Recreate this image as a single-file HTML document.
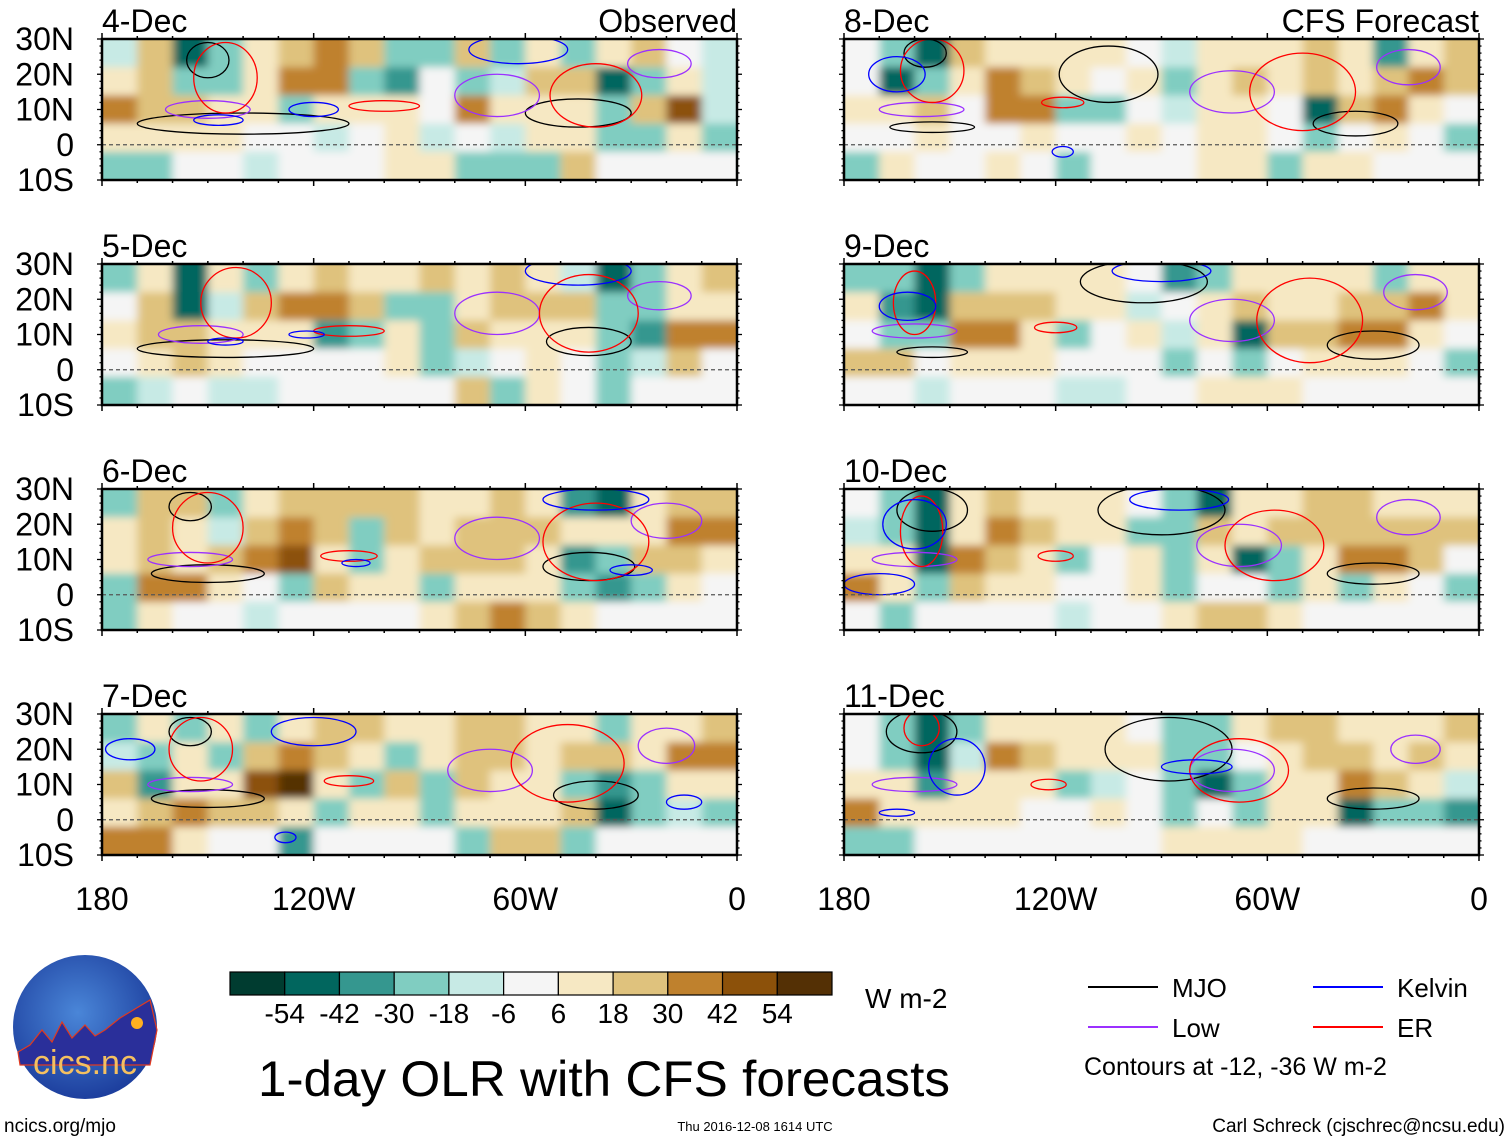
<!DOCTYPE html>
<html><head><meta charset="utf-8">
<style>
html,body{margin:0;padding:0;background:#fff;}
body{width:1510px;height:1142px;overflow:hidden;font-family:"Liberation Sans",sans-serif;}
svg text{font-family:"Liberation Sans",sans-serif;fill:#000;}
</style></head>
<body>
<svg id="fig" width="1510" height="1142" viewBox="0 0 1510 1142" xmlns="http://www.w3.org/2000/svg">
<defs>
<filter id="soft" x="-5%" y="-10%" width="110%" height="120%"><feGaussianBlur stdDeviation="4.5 4"/></filter>
<radialGradient id="logoG" cx="0.45" cy="0.4" r="0.6"><stop offset="0" stop-color="#4a86d8"/><stop offset="1" stop-color="#1d3f9e"/></radialGradient>
</defs>
</svg>
<script>
// ---- data ----
const panelDates = ["4-Dec","5-Dec","6-Dec","7-Dec","8-Dec","9-Dec","10-Dec","11-Dec"];
const lonEdgesW = [180,170,160,150,140,130,120,110,100,90,80,70,60,50,40,30,20,10,0];
const latEdges = [30,22,14,6,-2,-10];
const colorLevels = [-54,-42,-30,-18,-6,6,18,30,42,54];
const colorFills = ["#003c30","#01665e","#35978f","#80cdc1","#c7eae5","#f5f5f5","#f6e8c3","#dfc27d","#bf812d","#8c510a","#543005"];
const yTickLabels = ["30N","20N","10N","0","10S"];
const yTickLats = [30,20,10,0,-10];
const xTickLabels = ["180","120W","60W","0"];
const xTickLons = [180,120,60,0];
const olr4 = [
[-10,20,-50,-20,10,25,30,25,-30,-20,25,-30,10,-20,15,20,0,-10],
[10,25,-30,-20,15,35,30,-20,-40,0,-30,-10,20,20,-50,-30,15,-10],
[40,20,25,15,10,-20,15,15,10,0,30,10,15,15,-30,25,45,-15],
[10,15,15,10,5,0,-10,0,10,-10,5,-10,10,10,-20,-30,15,-20],
[-20,-25,0,0,-15,0,0,0,10,10,-20,-30,-25,25,0,0,0,0]];
const olr5 = [
[-20,15,-50,10,-20,15,25,15,10,20,15,20,10,-10,-50,-20,15,20],
[5,20,-50,-10,20,35,30,25,-20,-20,10,20,25,20,-20,-30,10,15],
[15,20,25,15,10,10,-40,-20,10,-20,20,15,15,10,-30,-40,40,30],
[5,10,20,10,5,5,5,0,10,-20,-10,0,10,5,-20,-10,20,0],
[-30,-10,0,-10,-10,0,0,0,0,0,25,-20,10,5,-25,0,0,0]];
const olr6 = [
[-20,20,25,-30,10,20,25,25,20,10,15,20,10,-40,-50,15,20,20],
[10,25,10,-10,25,35,25,-20,20,15,25,25,20,15,10,15,35,30],
[15,20,15,25,30,50,10,-30,15,20,25,20,15,-40,-20,25,20,10],
[-20,30,30,10,5,-30,25,15,15,-20,10,15,10,-30,-40,-30,10,5],
[-20,10,0,5,-10,0,0,0,0,10,20,30,25,10,0,0,0,0]];
const olr7 = [
[-20,10,-20,10,-20,15,20,25,10,10,20,20,15,10,-30,10,15,20],
[-10,-30,10,-20,25,35,20,15,-20,10,20,25,15,20,20,10,40,40],
[20,-40,15,10,45,55,10,-20,25,-30,20,15,10,-30,-40,-30,10,10],
[15,20,30,25,20,15,-20,15,10,-20,10,15,15,25,-50,-20,-10,-30],
[30,40,10,0,0,-40,0,0,0,0,-20,20,20,-20,5,0,0,0]];
const olr8 = [
[0,-20,-50,20,15,10,15,10,5,-10,10,15,15,20,15,-40,10,20],
[5,-50,-20,10,30,20,15,5,10,-20,10,25,15,20,15,25,30,20],
[10,10,20,5,40,40,-30,-20,5,-10,10,15,0,-50,25,30,10,5],
[0,5,15,5,5,10,0,5,10,5,15,10,5,-30,5,10,5,-20],
[-20,15,0,0,10,0,-20,0,0,0,10,15,-20,10,10,5,5,0]];
const olr9 = [
[-20,-30,-50,-20,10,15,15,10,5,-40,-20,10,15,10,15,-30,10,10],
[10,-40,-50,20,20,20,15,10,-10,0,10,20,15,10,20,20,30,15],
[5,-20,-20,30,35,15,-30,5,10,-10,10,-50,20,20,35,35,15,0],
[25,20,5,10,10,10,5,5,5,-30,5,-20,5,10,15,10,5,-20],
[0,0,-10,0,0,0,-15,-10,0,0,10,10,10,5,0,0,0,0]];
const olr10 = [
[0,-30,-50,10,20,15,10,10,5,-30,-50,10,15,20,20,15,10,15],
[-10,-20,-50,10,30,25,15,10,-20,-20,20,10,25,20,20,20,25,20],
[15,10,-50,30,25,10,-30,5,10,-20,10,-50,-30,15,35,30,20,5],
[40,10,-20,20,10,10,5,5,10,-20,5,5,-30,10,-20,10,5,-20],
[5,-20,0,5,0,5,-15,0,0,10,20,20,10,5,0,0,0,5]];
const olr11 = [
[0,-20,-50,-30,10,10,15,10,5,-30,-20,15,20,20,15,15,10,20],
[0,-20,-50,-10,30,25,15,10,10,-30,-20,5,15,20,20,15,25,15],
[10,10,-40,15,15,10,-20,-10,5,-20,-50,-20,10,15,35,25,10,-10],
[40,15,10,10,10,5,5,10,5,-20,5,-30,10,10,-50,-20,-20,-40],
[-20,-20,0,5,0,0,0,0,0,15,15,10,10,5,0,0,0,0]];
const olrPanels = [olr4,olr5,olr6,olr7,olr8,olr9,olr10,olr11];
// contour features: [type, lonW, lat, halfLonDeg, halfLatDeg]
const waves4 = [["mjo",140,6,30,3],["mjo",45,9,15,4],["mjo",150,24,6,5],["low",150,10,12,2.5],["low",68,14,12,6],["low",22,23,9,4],["er",145,19,9,10],["er",40,14,13,9],["er",100,11,10,1.5],["kelvin",147,7,7,1.5],["kelvin",120,10,7,2],["kelvin",62,27,14,4]];
const waves5 = [["mjo",145,6,25,2.5],["mjo",42,8,12,4],["low",152,10,12,2.5],["low",68,16,12,6],["low",22,21,9,4],["er",142,19,10,10],["er",42,16,14,11],["er",110,11,10,1.5],["kelvin",145,8,5,1],["kelvin",122,10,5,1],["kelvin",45,28,15,4]];
const waves6 = [["mjo",150,6,16,2.5],["mjo",42,8,13,4],["mjo",155,25,6,4],["low",155,10,12,2],["low",68,16,12,6],["low",20,21,10,5],["er",150,19,10,10],["er",40,15,15,11],["er",110,11,8,1.5],["kelvin",40,27,15,3],["kelvin",108,9,4,1],["kelvin",30,7,6,1.5]];
const waves7 = [["mjo",150,6,16,2.5],["mjo",40,7,12,4],["mjo",155,25,6,4],["low",155,10,12,2],["low",70,14,12,6],["low",20,21,8,5],["er",152,20,9,9],["er",48,16,16,11],["er",110,11,7,1.5],["kelvin",172,20,7,3],["kelvin",120,25,12,4],["kelvin",128,-5,3,1.5],["kelvin",15,5,5,2]];
const waves8 = [["mjo",155,5,12,1.5],["mjo",35,6,12,3.5],["mjo",105,20,14,8],["mjo",157,26,6,4],["low",158,10,12,2],["low",70,15,12,6],["low",20,22,9,5],["er",155,21,9,9],["er",50,15,15,11],["er",118,12,6,1.5],["kelvin",165,20,8,5],["kelvin",118,-2,3,1.5]];
const waves9 = [["mjo",155,5,10,1.5],["mjo",30,7,13,4],["mjo",95,25,18,6],["low",160,11,12,2],["low",70,14,12,6],["low",18,22,9,5],["er",160,19,6,9],["er",48,14,15,12],["er",120,12,6,1.5],["kelvin",162,18,8,4],["kelvin",90,28,14,3]];
const waves10 = [["mjo",155,24,10,6],["mjo",30,6,13,3],["mjo",90,24,18,7],["low",160,10,12,2],["low",68,14,12,6],["low",20,22,9,5],["er",158,18,6,10],["er",58,14,14,10],["er",120,11,5,1.5],["kelvin",160,20,9,7],["kelvin",170,3,10,3],["kelvin",85,27,14,3]];
const waves11 = [["mjo",158,25,10,6],["mjo",30,6,13,3],["mjo",88,20,18,9],["low",160,10,12,2],["low",70,14,12,6],["low",18,20,7,4],["er",158,26,5,5],["er",68,14,14,9],["er",122,10,5,1.5],["kelvin",148,15,8,8],["kelvin",80,15,10,2],["kelvin",165,2,5,1]];
const wavePanels = [waves4,waves5,waves6,waves7,waves8,waves9,waves10,waves11];
const waveColors = {mjo:"#000000",low:"#9b30ff",kelvin:"#0000ff",er:"#ff0000"};
const legendNames = ["MJO","Low","Kelvin","ER"];
const legendKeys = ["mjo","low","kelvin","er"];

// ---- layout ----
const NS = "http://www.w3.org/2000/svg";
const svg = document.getElementById("fig");
const PW = 635, PH = 141;
const colX = [102, 844];
const rowY = [39, 264, 489, 714];
function mk(tag, attrs, parent){const e=document.createElementNS(NS,tag);for(const k in attrs)e.setAttribute(k,attrs[k]);(parent||svg).appendChild(e);return e;}
function colorFor(v){let i=0;while(i<colorLevels.length&&v>=colorLevels[i])i++;return colorFills[i];}

for(let p=0;p<8;p++){
  const c = p<4?0:1, r = p%4;
  const x0 = colX[c], y0 = rowY[r];
  const xs = lon => x0 + (180-lon)/180*PW;
  const ys = lat => y0 + (30-lat)/40*PH;
  const g = mk("g",{});
  
  
  const cp = mk("clipPath",{id:"cp"+p},g);
  mk("rect",{x:x0,y:y0,width:PW,height:PH},cp);
  const clipG = mk("g",{"clip-path":"url(#cp"+p+")"},g);
  mk("rect",{x:x0,y:y0,width:PW,height:PH,fill:"#f6e8c3"},clipG);
  const field = mk("g",{filter:"url(#soft)"},clipG);
  const data = olrPanels[p];
  for(let j=0;j<data.length;j++){
    for(let i=0;i<data[j].length;i++){
      let xa = xs(lonEdgesW[i]), xb = xs(lonEdgesW[i+1]);
      let ya = ys(latEdges[j]), yb = ys(latEdges[j+1]);
      if(i===0) xa-=25; if(i===data[j].length-1) xb+=25;
      if(j===0) ya-=25; if(j===data.length-1) yb+=25;
      const cell = mk("rect",{x:xa,y:ya,width:xb-xa+0.5,height:yb-ya+0.5,fill:colorFor(data[j][i])},field);
      
      
    }
  }
  wavePanels[p].forEach(w=>{
    const cx = xs(w[1]), cy = ys(w[2]);
    const rx = w[3]/180*PW, ry = w[4]/40*PH;
    const el = mk("ellipse",{cx:cx,cy:cy,rx:rx,ry:ry,fill:"none",stroke:waveColors[w[0]],"stroke-width":1.3},clipG);
    
    
  });
  const eq = mk("line",{x1:x0,x2:x0+PW,y1:ys(0),y2:ys(0),stroke:"#555","stroke-width":1.3,"stroke-dasharray":"4 3"},g);
  
  
  mk("rect",{x:x0,y:y0,width:PW,height:PH,fill:"none",stroke:"#000","stroke-width":2.5},g);
  for(let lon=180;lon>=0;lon-=10){
    const major = lon%60===0, L = major?6:3;
    mk("line",{x1:xs(lon),x2:xs(lon),y1:y0,y2:y0-L,stroke:"#000","stroke-width":1.5},g);
    mk("line",{x1:xs(lon),x2:xs(lon),y1:y0+PH,y2:y0+PH+L,stroke:"#000","stroke-width":1.5},g);
  }
  for(let lat=30;lat>=-10;lat-=2){
    const major = lat%10===0, L = major?5:2.5;
    mk("line",{x1:x0,x2:x0-L,y1:ys(lat),y2:ys(lat),stroke:"#000","stroke-width":1.3},g);
    mk("line",{x1:x0+PW,x2:x0+PW+L,y1:ys(lat),y2:ys(lat),stroke:"#000","stroke-width":1.3},g);
  }
  const t = mk("text",{x:x0,y:y0-7,"font-size":32},g);
  t.textContent = panelDates[p];
  
  
  if(c===0){
    yTickLabels.forEach((lab,k)=>{
      const yt = mk("text",{x:74,y:ys(yTickLats[k])+11,"font-size":32,"text-anchor":"end"},g);
      yt.textContent = lab;
      
      
    });
  }
  if(r===3){
    xTickLabels.forEach((lab,k)=>{
      const xt = mk("text",{x:xs(xTickLons[k]),y:910,"font-size":32,"text-anchor":"middle"},g);
      xt.textContent = lab;
      
      
    });
  }
}
let tt = mk("text",{x:737,y:32,"font-size":32,"text-anchor":"end"});
tt.textContent="Observed";


tt = mk("text",{x:1479,y:32,"font-size":32,"text-anchor":"end"});
tt.textContent="CFS Forecast";



const cb = mk("g",{});


const cbX = 230, cbW = 602, cbY = 972, cbH = 23, bw = cbW/colorFills.length;
colorFills.forEach((f,k)=>{
  const b = mk("rect",{x:cbX+k*bw,y:cbY,width:bw,height:cbH,fill:f,stroke:"#000","stroke-width":1.2},cb);
  
  
});
colorLevels.forEach((v,k)=>{
  const l = mk("text",{x:cbX+(k+1)*bw,y:1023,"font-size":28,"text-anchor":"middle"},cb);
  l.textContent = v;
  
  
});
let u = mk("text",{x:865,y:1008,"font-size":28});
u.textContent="W m-2";



let ti = mk("text",{x:258,y:1096,"font-size":50,textLength:692,lengthAdjust:"spacingAndGlyphs"});
ti.textContent="1-day OLR with CFS forecasts";



const lg = mk("g",{});


const lgPos = [[1088,987],[1088,1027],[1313,987],[1313,1027]];
legendNames.forEach((n,k)=>{
  const e = mk("g",{},lg);
  
  
  mk("line",{x1:lgPos[k][0],x2:lgPos[k][0]+70,y1:lgPos[k][1],y2:lgPos[k][1],stroke:waveColors[legendKeys[k]],"stroke-width":2},e);
  const lt = mk("text",{x:lgPos[k][0]+84,y:lgPos[k][1]+10,"font-size":26},e);
  lt.textContent = n;
});
let cn = mk("text",{x:1084,y:1075,"font-size":25});
cn.textContent="Contours at -12, -36 W m-2";



let f1 = mk("text",{x:4,y:1132,"font-size":19});
f1.textContent="ncics.org/mjo";


let f2 = mk("text",{x:755,y:1131,"font-size":13,"text-anchor":"middle"});
f2.textContent="Thu 2016-12-08 1614 UTC";


let f3 = mk("text",{x:1505,y:1132,"font-size":19,"text-anchor":"end"});
f3.textContent="Carl Schreck (cjschrec@ncsu.edu)";



const lo = mk("g",{});


mk("circle",{cx:85,cy:1027,r:72,fill:"url(#logoG)"},lo);
mk("path",{d:"M18 1052 L30 1045 L42 1030 L52 1042 L62 1022 L72 1038 L85 1025 L95 1036 L105 1030 L120 1018 L150 1000 L157 1030 L150 1065 L20 1065 Z",fill:"#2a2f9a",stroke:"#e03a20","stroke-width":1.2},lo);
mk("circle",{cx:137,cy:1023,r:6,fill:"#ffb020"},lo);
let lt1 = mk("text",{x:85,y:1074,"font-size":34,"text-anchor":"middle"},lo);
lt1.setAttribute("style","fill:#f5c060");
lt1.textContent="cics.nc";
</script>
</body></html>
